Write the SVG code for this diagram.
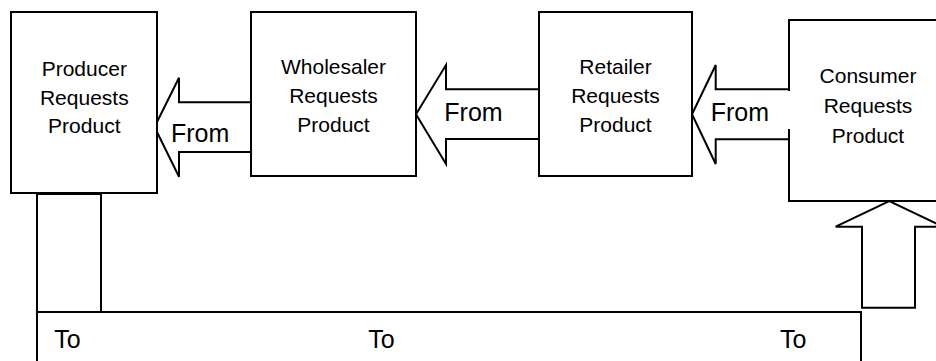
<svg xmlns="http://www.w3.org/2000/svg" width="936" height="361" viewBox="0 0 936 361">
  <style>
    .box { fill: #ffffff; stroke: #000000; stroke-width: 2; }
    .line { fill: none; stroke: #000000; stroke-width: 2; }
    .arrow { fill: #ffffff; stroke: #000000; stroke-width: 2; stroke-linejoin: miter; }
    .label { font-family: "Liberation Sans", Arial, sans-serif; font-size: 21px; fill: #000000; text-anchor: middle; }
    .tag { font-family: "Liberation Sans", Arial, sans-serif; font-size: 25px; fill: #000000; }
  </style>
  <rect width="936" height="361" fill="#ffffff"/>

  <!-- connectors: block arrows and the return loop -->
  <g id="connectors">
    <!-- Wholesaler to Producer -->
    <path class="arrow" d="M251,102.3 L179,102.3 L179,77.7 L154.5,127 L179,176.7 L179,152 L251,152"/>
    <text class="tag" x="171" y="141.7">From</text>
    <!-- Retailer to Wholesaler -->
    <path class="arrow" d="M539,89.3 L446,89.3 L446,65 L416,114.3 L446,164 L446,139 L539,139"/>
    <text class="tag" x="444.3" y="121">From</text>
    <!-- Consumer to Retailer -->
    <path class="arrow" d="M789,89.3 L715.7,89.3 L715.7,65 L692,114.3 L715.7,164 L715.7,139.3 L789,139.3"/>
    <text class="tag" x="710.7" y="121">From</text>

    <!-- return loop: column under Producer, long bar, up arrow into Consumer -->
    <rect class="box" x="37" y="194" width="64" height="118"/>
    <path class="line" d="M37,380 L37,312 L861,312 L861,380"/>
    <text class="tag" x="54.3" y="348.3">To</text>
    <text class="tag" x="368.3" y="348.3">To</text>
    <text class="tag" x="780" y="348.3">To</text>
    <path class="arrow" d="M862,307.7 L862,226.7 L835.7,226.7 L889.3,201 L943,226.7 L915,226.7 L915,307.7 Z"/>
  </g>

  <g id="producer">
    <rect class="box" x="11" y="12" width="146" height="181"/>
    <text class="label" x="84.3" y="76">Producer</text>
    <text class="label" x="84.3" y="105">Requests</text>
    <text class="label" x="84.3" y="133.3">Product</text>
  </g>

  <g id="wholesaler">
    <rect class="box" x="251" y="12" width="165" height="164"/>
    <text class="label" x="333.5" y="74.3">Wholesaler</text>
    <text class="label" x="333.5" y="103.3">Requests</text>
    <text class="label" x="333.5" y="131.7">Product</text>
  </g>

  <g id="retailer">
    <rect class="box" x="539" y="12" width="153" height="164"/>
    <text class="label" x="615.5" y="74.3">Retailer</text>
    <text class="label" x="615.5" y="103.3">Requests</text>
    <text class="label" x="615.5" y="131.7">Product</text>
  </g>

  <g id="consumer">
    <path class="line" d="M945,20 L789,20 L789,91 M789,129 L789,201 L945,201"/>
    <text class="label" x="868" y="83.3">Consumer</text>
    <text class="label" x="868" y="113">Requests</text>
    <text class="label" x="868" y="142.7">Product</text>
  </g>
</svg>
